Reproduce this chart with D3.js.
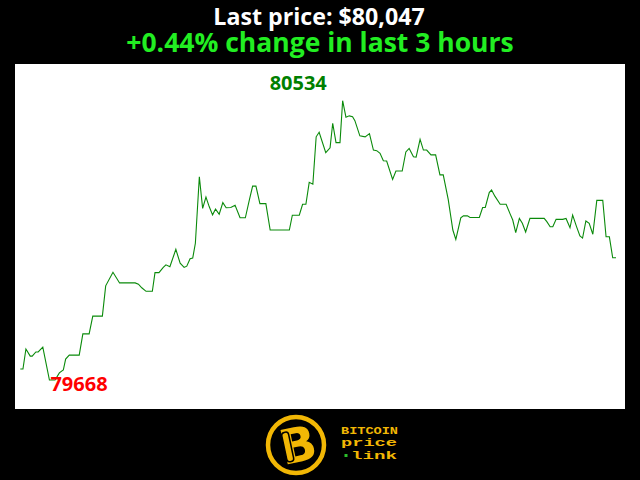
<!DOCTYPE html>
<html>
<head>
<meta charset="utf-8">
<script src="https://cdn.jsdelivr.net/npm/d3@7"></script>
<style>
  html, body { margin: 0; padding: 0; background: #000; }
  svg { display: block; }
</style>
</head>
<body>
<script>
// ---- Data (minutes since start of 3-hour window, BTC price in USD) ----
const minutes = [0,0.8,1.7,3.0,3.6,4.7,5.4,6.8,8.8,10.5,11.8,13.0,13.7,14.8,17.8,18.9,20.8,21.9,24.8,25.8,
  28.0,30.0,34.7,35.7,36.7,38.0,39.9,40.7,41.9,43.2,44.0,45.2,47.0,48.3,49.5,50.3,51.3,52.1,52.9,54.1,
  55.1,56.1,57.1,58.1,59.0,60.1,61.2,62.2,63.6,64.9,66.4,68.0,69.2,70.2,71.2,72.4,74.2,75.5,81.3,82.2,
  84.3,85.3,86.3,87.3,88.4,89.4,90.3,92.3,93.6,94.4,95.4,96.6,97.4,98.4,99.4,100.4,101.1,102.6,104.2,105.5,
  106.7,107.7,108.7,109.7,110.7,112.5,113.5,115.4,116.5,117.5,118.8,119.6,120.8,121.8,122.8,124.1,125.5,126.8,127.8,129.3,
  130.7,131.6,133.1,133.9,135.1,135.9,138.7,139.7,140.5,141.7,142.4,143.4,145.0,146.8,148.0,148.8,149.7,150.8,151.7,152.7,
  154.0,158.3,159.1,160.1,160.9,161.9,163.9,164.9,166.1,166.9,168.1,169.1,169.9,170.9,171.9,173.0,174.2,176.0,177.0,178.0,
  179.0,180.0];
const prices = [79702,79702,79764,79742,79742,79755,79755,79770,79668,79668,79690,79699,79733,79745,79745,79811,79811,79866,79866,79960,
  80002,79969,79969,79965,79954,79943,79943,80001,80001,80017,80025,80019,80073,80030,80017,80021,80044,80046,80092,80298,
  80200,80235,80205,80180,80198,80182,80218,80202,80203,80210,80171,80171,80226,80269,80269,80215,80215,80133,80133,80179,
  80179,80213,80213,80281,80275,80422,80436,80373,80388,80464,80404,80404,80534,80483,80487,80484,80472,80425,80422,80432,
  80381,80379,80371,80348,80347,80290,80316,80316,80375,80386,80360,80359,80414,80381,80381,80366,80366,80304,80304,80228,
  80133,80104,80171,80177,80177,80172,80172,80203,80203,80249,80257,80238,80213,80213,80183,80164,80125,80169,80154,80127,
  80169,80169,80159,80143,80143,80166,80166,80169,80140,80179,80143,80115,80108,80161,80154,80120,80225,80225,80112,80112,
  80047,80047];
const windowMinutes = [0, 180];
const titleLines = ["Last price: $80,047", "+0.44% change in last 3 hours"];
const logoWords = ["BITCOIN", "price", "link"];

const data = minutes.map((m, i) => ({ m, p: prices[i] }));

const W = 640, H = 480;
const svg = d3.select("body").append("svg").attr("width", W).attr("height", H);
svg.append("rect").attr("width", W).attr("height", H).attr("fill", "#000");

// Plot panel
svg.append("rect").attr("x", 15).attr("y", 64).attr("width", 610).attr("height", 345).attr("fill", "#fff");

const x = d3.scaleLinear().domain(windowMinutes).range([20.3, 616]);
const [minP, maxP] = d3.extent(prices);
const y = d3.scaleLinear().domain([minP, maxP]).range([380, 100.7]);

const line = d3.line().x(d => x(d.m)).y(d => y(d.p));
svg.append("path").datum(data)
  .attr("d", line)
  .attr("fill", "none")
  .attr("stroke", "#0a8a0a")
  .attr("stroke-width", 1.1)
  .attr("stroke-linejoin", "miter");

// Min / max labels
const minD = data.find(d => d.p === minP);
const maxD = data.find(d => d.p === maxP);
svg.append("text").attr("x", x(minD.m) + 1).attr("y", y(minD.p) + 10.5)
  .attr("font-family", "Open Sans").attr("font-weight", 700).attr("font-size", 20)
  .attr("fill", "#ff0000").text(String(minP));
svg.append("text").attr("x", x(maxD.m) - 73).attr("y", y(maxD.p) - 10.5)
  .attr("font-family", "Open Sans").attr("font-weight", 700).attr("font-size", 20)
  .attr("fill", "#008000").text(String(maxP));

// Titles
svg.append("text").attr("x", 319).attr("y", 24.5).attr("text-anchor", "middle")
  .attr("font-family", "Open Sans").attr("font-weight", 700).attr("font-size", 23.2)
  .attr("fill", "#fff").text(titleLines[0]);
svg.append("text").attr("x", 320).attr("y", 52).attr("text-anchor", "middle")
  .attr("font-family", "Open Sans").attr("font-weight", 700).attr("font-size", 26.5)
  .attr("fill", "#22ee22").text(titleLines[1]);

// Logo
const gold = "#f2b705";
const logo = svg.append("g");
logo.append("circle").attr("cx", 296).attr("cy", 445).attr("r", 28)
  .attr("fill", "none").attr("stroke", gold).attr("stroke-width", 4.5);
logo.append("text").attr("x", 298).attr("y", 462).attr("text-anchor", "middle")
  .attr("transform", "rotate(-12,297,445)")
  .attr("font-family", "DejaVu Sans").attr("font-weight", 700).attr("font-size", 48)
  .attr("fill", gold).text("B");
logo.append("rect").attr("x", 284).attr("y", 430).attr("width", 7).attr("height", 30)
  .attr("rx", 3).attr("transform", "rotate(-12,297,445)")
  .attr("fill", "none").attr("stroke", "#000").attr("stroke-width", 1.5);
const mono = "Liberation Mono";
logo.append("text").attr("x", 341).attr("y", 433.5).attr("font-family", mono).attr("font-weight", 700)
  .attr("font-size", 11).attr("fill", gold).attr("textLength", 57).attr("lengthAdjust", "spacingAndGlyphs").text(logoWords[0]);
logo.append("text").attr("x", 341).attr("y", 446).attr("font-family", mono).attr("font-weight", 700)
  .attr("font-size", 11).attr("fill", gold).attr("textLength", 56).attr("lengthAdjust", "spacingAndGlyphs").text(logoWords[1]);
logo.append("rect").attr("x", 344.5).attr("y", 454).attr("width", 3).attr("height", 3).attr("fill", "#2bbf2b");
logo.append("text").attr("x", 351).attr("y", 459).attr("font-family", mono).attr("font-weight", 700)
  .attr("font-size", 11).attr("fill", gold).attr("textLength", 46).attr("lengthAdjust", "spacingAndGlyphs").text(logoWords[2]);
</script>
</body>
</html>
